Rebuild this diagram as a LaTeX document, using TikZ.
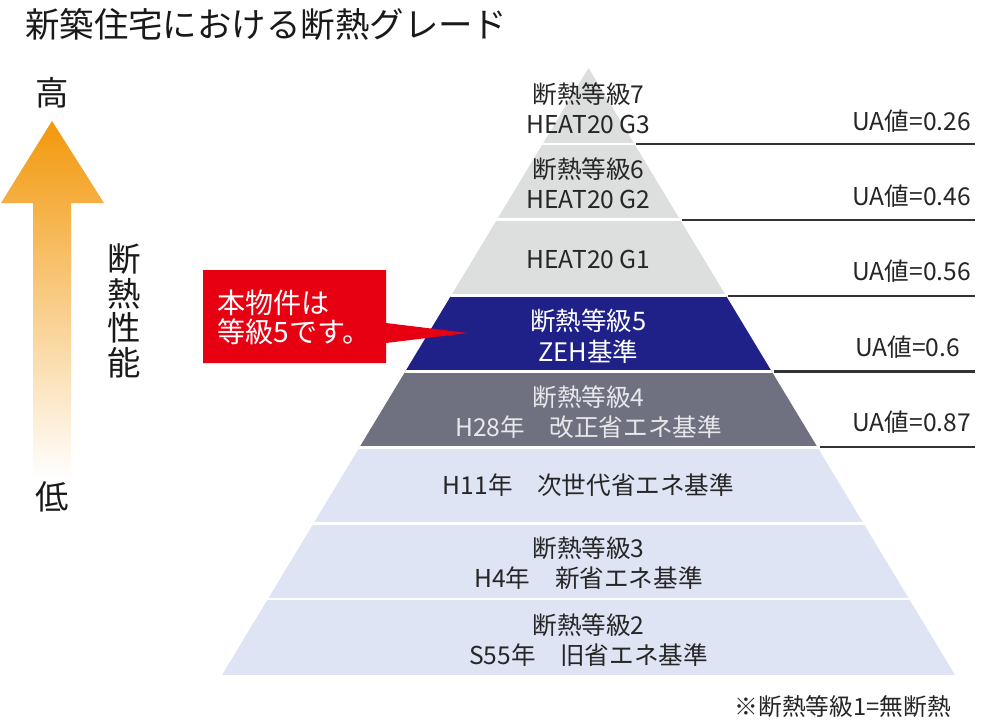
\documentclass[tikz,border=0pt]{standalone}
\usepackage{fontspec}
\setmainfont{Noto Sans CJK JP}
\usetikzlibrary{calc}
\definecolor{gradegray}{RGB}{221,222,222}
\definecolor{zehnavy}{RGB}{31,33,136}
\definecolor{slateband}{RGB}{111,113,128}
\definecolor{oldlav}{RGB}{223,228,245}
\definecolor{calloutred}{RGB}{230,0,18}
\definecolor{perforange}{RGB}{242,152,10}
\definecolor{paletext}{RGB}{232,232,236}
\tikzset{
  bandtext/.style={font=\fontsize{14}{17}\selectfont, align=center, text=black!85},
  uatext/.style={font=\fontsize{14}{17}\selectfont, anchor=east, text=black!85},
  ualine/.style={line width=1.2pt, black!80},
  bandsep/.style={white, line width=1.5pt},
  bigchar/.style={font=\fontsize{19}{19.6}\selectfont, align=center, text=black!90},
}

\begin{document}
\begin{tikzpicture}[x=0.02cm, y=-0.02cm]
\useasboundingbox (0,0) rectangle (1000,724);
% Title
\node[anchor=west, font=\fontsize{19.6}{22}\selectfont, text=black!90] (title) at (19,24) {新築住宅における断熱グレード};
% Performance arrow
\shade[top color=perforange, bottom color=white] (33,478) -- (33,203) -- (1,203) -- (52,121) -- (104,203) -- (71,203) -- (71,478) -- cycle;
\node[bigchar] (hi) at (52,93) {高};
\node[bigchar] (lo) at (52,497) {低};
\node[bigchar] (perf) at (124,311) {断\\熱\\性\\能};
% Pyramid
\coordinate (apex) at (588.5,68);
\coordinate (baseL) at (222,675);
\coordinate (baseR) at (955,675);
\begin{scope}
\clip (apex) -- (baseL) -- (baseR) -- cycle;
\foreach \i/\col in {0/gradegray,1/gradegray,2/gradegray,3/zehnavy,4/slateband,5/oldlav,6/oldlav,7/oldlav}
  \fill[\col] (200,{68+75.875*\i}) rectangle (980,{68+75.875*(\i+1)});
\foreach \i in {1,...,7}
  \draw[bandsep] (200,{68+75.875*\i}) -- (980,{68+75.875*\i});
\end{scope}
% Grade labels
\node[bandtext] (lvl7) at (588.5,108) {断熱等級7\\HEAT20 G3};
\node[bandtext] (lvl6) at (588.5,183) {断熱等級6\\HEAT20 G2};
\node[bandtext] (g1) at (588.5,259) {HEAT20 G1};
\node[bandtext, text=white, font=\fontsize{14.5}{17.5}\selectfont] (lvl5) at (588.5,336) {断熱等級5\\ZEH基準};
\node[bandtext, text=paletext] (lvl4) at (588.5,412) {断熱等級4\\H28年　改正省エネ基準};
\node[bandtext] (h11) at (588.5,485) {H11年　次世代省エネ基準};
\node[bandtext] (lvl3) at (588.5,563) {断熱等級3\\H4年　新省エネ基準};
\node[bandtext] (lvl2) at (588.5,640) {断熱等級2\\S55年　旧省エネ基準};
% UA lines
\foreach \i in {1,...,5} {
  \coordinate (edge\i) at ({590.5+45.81*\i},{68+75.875*\i});
  \coordinate (end\i) at (975,{68+75.875*\i});
  \draw[ualine] (edge\i) -- (end\i);
}
\node[uatext] (ua7) at (977,121) {UA値=0.26};
\node[uatext] (ua6) at (977,196) {UA値=0.46};
\node[uatext] (ua5) at (977,271) {UA値=0.56};
\node[uatext] (ua4) at (966,347) {UA値=0.6};
\node[uatext] (ua3) at (977,422) {UA値=0.87};
% Callout
\fill[calloutred] (203,270) -- (386,270) -- (386,323) -- (468,333) -- (386,343) -- (386,363) -- (203,363) -- cycle;
\node[anchor=west, align=left, text=white, font=\fontsize{16}{16.6}\selectfont] (callout) at (211,317) {本物件は\\等級5です。};
% Footnote
\node[anchor=east, font=\fontsize{13.5}{17}\selectfont, text=black!85] (note) at (957,707) {※断熱等級1=無断熱};
\end{tikzpicture}
\end{document}
